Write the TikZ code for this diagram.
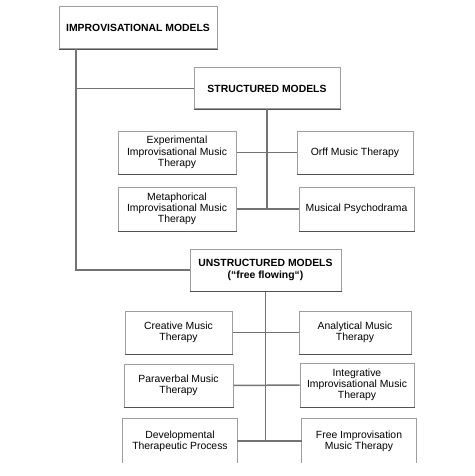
\documentclass[tikz,border=0pt]{standalone}
\usepackage{fontspec}
\setmainfont{Liberation Sans}
\begin{document}
\begin{tikzpicture}[x=1pt,y=-1pt,
  box/.style={draw=black!38, line width=1pt, fill=white, align=center, inner sep=1pt,
    font=\fontsize{10.4}{11.3}\selectfont},
  openbox/.style={align=center, inner sep=1pt, font=\fontsize{10.4}{11.3}\selectfont},
  title/.style={box, font=\bfseries\fontsize{10.4}{11.3}\selectfont},
  shade/.style={draw=black!68, line width=1.4pt},
  conn/.style={draw=black!55, line width=1.5pt}]
\useasboundingbox (0,0) rectangle (474,476);
% top level
\node[title, minimum width=158, minimum height=42] (imp) at (138,28) {IMPROVISATIONAL MODELS};
\node[title, minimum width=146, minimum height=41] (str) at (267,88.5) {STRUCTURED MODELS};
\node[title, minimum width=151, minimum height=42] (uns) at (265.5,270) {UNSTRUCTURED MODELS\\(“free flowing“)};
% structured children
\node[box, minimum width=118, minimum height=43] (exp) at (177,152.5) {Experimental\\Improvisational Music\\Therapy};
\node[box, minimum width=116, minimum height=43] (orff) at (355,152.5) {Orff Music Therapy};
\node[box, minimum width=118, minimum height=44] (met) at (177,209) {Metaphorical\\Improvisational Music\\Therapy};
\node[box, minimum width=115, minimum height=44] (psy) at (356.5,209) {Musical Psychodrama};
% unstructured children
\node[box, minimum width=107, minimum height=43] (cre) at (178.5,332.5) {Creative Music\\Therapy};
\node[box, minimum width=112, minimum height=43] (ana) at (355,332.5) {Analytical Music\\Therapy};
\node[box, minimum width=109, minimum height=43] (par) at (178.5,385.5) {Paraverbal Music\\Therapy};
\node[box, minimum width=114, minimum height=44] (int) at (357,385) {Integrative\\Improvisational Music\\Therapy};
\node[openbox, minimum width=114, minimum height=44] (dev) at (180,441) {Developmental\\Therapeutic Process};
\node[openbox, minimum width=114, minimum height=44] (fre) at (359,441) {Free Improvisation\\Music Therapy};
% shadows
\foreach \n in {imp,str,uns,exp,orff,met,psy,cre,ana,par,int}
  \draw[shade] (\n.south west) -- (\n.south east);
% open boxes (cut at the bottom)
\foreach \n in {dev,fre}
  \draw[draw=black!38, line width=1pt] (\n.south west) -- (\n.north west) -- (\n.north east) -- (\n.south east);
% connectors
\coordinate (trunk) at (76,0);
\draw[conn] (imp.south -| trunk) -- (uns.west -| trunk) -- (uns.west);
\draw[conn] (str.west -| trunk) -- (str.west);
\coordinate (sbot) at (str.south |- met.east);
\draw[conn] (str.south) -- (sbot);
\draw[conn] (exp.east) -- (orff.west);
\draw[conn] (met.east) -- (psy.west);
\coordinate (ubot) at (uns.south |- dev.east);
\draw[conn] (uns.south) -- (ubot);
\draw[conn] (cre.east) -- (ana.west);
\draw[conn] (par.east) -- (int.west);
\draw[conn] (dev.east) -- (fre.west);
\end{tikzpicture}
\end{document}
